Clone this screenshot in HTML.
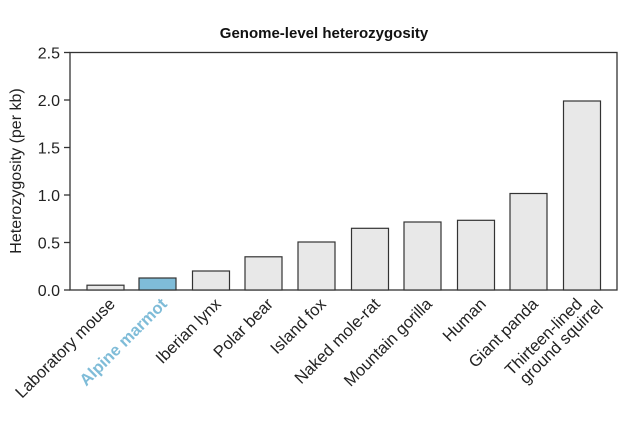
<!DOCTYPE html>
<html><head><style>body{margin:0;background:#fff}</style></head><body>
<svg width="643" height="436" xmlns="http://www.w3.org/2000/svg" font-family="Liberation Sans, Arial, sans-serif">
<text x="324" y="38" text-anchor="middle" font-weight="bold" font-size="15" fill="#111">Genome-level heterozygosity</text>
<rect x="70" y="52.5" width="547" height="237.5" fill="none" stroke="#333" stroke-width="1.3"/>
<g stroke="#333" stroke-width="1.3">
<line x1="64" y1="290" x2="70" y2="290"/><line x1="64" y1="242.5" x2="70" y2="242.5"/>
<line x1="64" y1="195" x2="70" y2="195"/><line x1="64" y1="147.5" x2="70" y2="147.5"/>
<line x1="64" y1="100" x2="70" y2="100"/><line x1="64" y1="52.5" x2="70" y2="52.5"/>
</g>
<g font-size="16" fill="#222" text-anchor="end">
<text x="60" y="296">0.0</text><text x="60" y="248.5">0.5</text><text x="60" y="201">1.0</text>
<text x="60" y="153.5">1.5</text><text x="60" y="106">2.0</text><text x="60" y="58.5">2.5</text>
</g>
<text transform="translate(21,171) rotate(-90)" text-anchor="middle" font-size="16" fill="#222">Heterozygosity (per kb)</text>
<g stroke="#333" stroke-width="1.2" fill="#e8e8e8">
<rect x="87" y="285.2" width="37" height="4.8"/>
<rect x="139" y="278" width="37" height="12" fill="#7fbcd8"/>
<rect x="192.5" y="271" width="37" height="19"/>
<rect x="245" y="256.8" width="37" height="33.2"/>
<rect x="298" y="242" width="37" height="48"/>
<rect x="351.5" y="228.3" width="37" height="61.7"/>
<rect x="404" y="222" width="37" height="68"/>
<rect x="457.5" y="220.3" width="37" height="69.7"/>
<rect x="510" y="193.5" width="37" height="96.5"/>
<rect x="563.5" y="101" width="37" height="189"/>
</g>
<g font-size="16.5" fill="#222" text-anchor="end">
<text transform="translate(116,305) rotate(-45)">Laboratory mouse</text>
<text transform="translate(168,305) rotate(-45)" fill="#7fbcd8" font-weight="bold">Alpine marmot</text>
<text transform="translate(222,305) rotate(-45)">Iberian lynx</text>
<text transform="translate(274,305) rotate(-45)">Polar bear</text>
<text transform="translate(327,305) rotate(-45)">Island fox</text>
<text transform="translate(381,305) rotate(-45)">Naked mole-rat</text>
<text transform="translate(433,305) rotate(-45)">Mountain gorilla</text>
<text transform="translate(487,305) rotate(-45)">Human</text>
<text transform="translate(539,305) rotate(-45)">Giant panda</text>
<text transform="translate(583,305) rotate(-45)">Thirteen-lined</text>
<text transform="translate(604,307) rotate(-45)">ground squirrel</text>
</g>
</svg>
</body></html>
